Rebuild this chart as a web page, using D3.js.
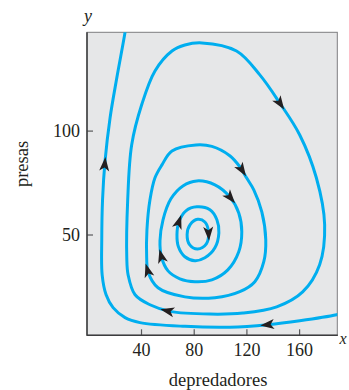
<!DOCTYPE html>
<html>
<head>
<meta charset="utf-8">
<script src="https://cdn.jsdelivr.net/npm/d3@7"></script>
<style>
  html, body { margin: 0; padding: 0; background: #ffffff; }
  svg { display: block; }
  text { font-family: "Liberation Serif", "DejaVu Serif", serif; fill: #231f20; }
</style>
</head>
<body>
<svg id="chart" width="349" height="390"></svg>
<script>
// ---- data (predators x, prey y) ----
const xTicks = [40, 80, 120, 160];
const yTicks = [50, 100];

const orbit1 = [[83,57.3],[88.5,56],[91.2,51.3],[89.6,45.5],[83,43],[77,45],[75,50],[77.3,54.7]];
const orbit2 = [[82.4,63.3],[92.3,61.9],[97.6,57.1],[99.1,50.8],[96.1,43.6],[88.5,38.8],[80.9,37.4],
                [73.3,39.3],[68.4,44.1],[67.3,49.9],[68.8,56.1],[74.1,61.4]];
const orbit3 = [[82.4,75.8],[96.1,73.9],[107.4,68.1],[114.2,60.4],[116.5,51.3],[114.2,41.7],[105.9,33.0],
                [93.8,28.2],[80.9,27.3],[69.5,28.7],[60.5,32.5],[55.5,39.3],[54.4,47.0],[56.7,57.1],
                [62.7,67.2],[71.8,73.4]];
const orbit4 = [[81.7,93.1],[93.8,92.4],[107.4,87.9],[115,82.6],[120.1,77.3],[125.6,71.5],[131.7,60.9],
                [134.7,47.5],[133.2,36.9],[126.4,27.3],[115,22.5],[96.1,19.6],[73.3,20.0],[52.9,24.4],
                [45.3,32.1],[44.3,38.8],[44.5,52.3],[46.8,66.7],[50.6,77.3],[55.9,83.5],[63.5,90.2]];
const orbit5 = [[86.2,142.2],[112.5,138.3],[130.2,126.8],[145.3,113.3],[160.5,97.9],[173.1,77.3],
                [179.4,54.7],[175.6,35.5],[162.7,22.4],[143,15.2],[117.3,12.2],[92.3,11.7],[62,13.0],
                [46.8,16.2],[35.5,21.0],[30.2,30.6],[29.2,38.8],[29.9,66.7],[32.9,93.1],[40.5,112.4],
                [50.6,128.7],[63.5,138.3],[73.3,141.2]];
const outerPath = [[192,12.0],[188.5,11.4],[160.5,8.5],[136.2,6.6],[107.4,5.4],[73.3,5.8],[39.2,7.6],
                   [27.9,10.0],[18.8,14.8],[13.5,21.0],[10.5,30.6],[10.2,47.5],[10.8,66.7],[12.7,85.4],
                   [16.5,106.1],[21.6,125.3],[27.9,147.4],[28.4,150]];
// arrowheads: which trajectory, and where on it (data units)
const arrowCurves = ["orbit5","orbit5","orbit4","orbit4","orbit3","orbit3","orbit2","orbit1","outer","outer"];
const arrowX = [145.3, 60.5, 116.3, 44.3, 107.4, 56.9, 69.0, 90.5, 12.0, 136.4];
const arrowY = [113.3, 12.4, 81.3, 32.2, 68.1, 39.4, 55.6, 50.8, 83.5, 6.6];

// ---- drawing ----
const svg = d3.select("#chart");
const pLeft = 87, pRight = 337.3, pTop = 32.3, pBottom = 335.3;
const x = d3.scaleLinear().domain([-1, 189]).range([pLeft, pRight]);
const y = d3.scaleLinear().domain([1.5, 147.3]).range([pBottom, pTop]);

svg.append("defs").append("clipPath").attr("id", "plotclip")
  .append("rect").attr("x", pLeft).attr("y", pTop).attr("width", pRight - pLeft).attr("height", pBottom - pTop);

svg.append("rect")
  .attr("x", pLeft).attr("y", pTop).attr("width", pRight - pLeft).attr("height", pBottom - pTop)
  .attr("fill", "#e6e7e8").attr("stroke", "#7d7e80").attr("stroke-width", 1);

const closedLine = d3.line().x(d => x(d[0])).y(d => y(d[1])).curve(d3.curveCatmullRomClosed.alpha(0.5));
const openLine = d3.line().x(d => x(d[0])).y(d => y(d[1])).curve(d3.curveCatmullRom.alpha(0.5));

const g = svg.append("g").attr("clip-path", "url(#plotclip)");
const curves = {
  orbit1: g.append("path").datum(orbit1).attr("d", closedLine),
  orbit2: g.append("path").datum(orbit2).attr("d", closedLine),
  orbit3: g.append("path").datum(orbit3).attr("d", closedLine),
  orbit4: g.append("path").datum(orbit4).attr("d", closedLine),
  orbit5: g.append("path").datum(orbit5).attr("d", closedLine),
  outer: g.append("path").datum(outerPath).attr("d", openLine)
};
Object.values(curves).forEach(p => p.attr("fill", "none").attr("stroke", "#00aeef")
  .attr("stroke-width", 3).attr("stroke-linejoin", "round"));

// axes
const xAxis = svg.append("g").attr("transform", `translate(0,${pBottom})`)
  .call(d3.axisBottom(x).tickValues(xTicks).tickSize(-6).tickPadding(8));
const yAxis = svg.append("g").attr("transform", `translate(${pLeft},0)`)
  .call(d3.axisLeft(y).tickValues(yTicks).tickSize(-6).tickPadding(7));
[xAxis, yAxis].forEach(a => {
  a.select(".domain").remove();
  a.selectAll(".tick line").attr("stroke", "#58595b").attr("stroke-width", 1.2);
  a.selectAll(".tick text").attr("font-family", "Liberation Serif, serif")
    .attr("font-size", 18).attr("fill", "#231f20");
});
svg.append("line").attr("x1", pLeft).attr("x2", pLeft).attr("y1", pTop).attr("y2", pBottom + 0.5)
  .attr("stroke", "#3c3c3e").attr("stroke-width", 1.5);
svg.append("line").attr("x1", pLeft).attr("x2", pRight + 0.5).attr("y1", pBottom).attr("y2", pBottom)
  .attr("stroke", "#3c3c3e").attr("stroke-width", 1.5);

// arrowheads, oriented along the trajectory
const ag = svg.append("g");
arrowCurves.forEach((name, i) => {
  const node = curves[name].node();
  const total = node.getTotalLength();
  const tx = x(arrowX[i]), ty = y(arrowY[i]);
  let best = 0, bestD = Infinity;
  for (let l = 0; l <= total; l += 0.5) {
    const p = node.getPointAtLength(l);
    const d = (p.x - tx) ** 2 + (p.y - ty) ** 2;
    if (d < bestD) { bestD = d; best = l; }
  }
  const p0 = node.getPointAtLength(Math.max(0, best - 3));
  const p1 = node.getPointAtLength(Math.min(total, best + 3));
  const pc = node.getPointAtLength(best);
  const ang = Math.atan2(p1.y - p0.y, p1.x - p0.x) * 180 / Math.PI;
  ag.append("path")
    .attr("d", "M8,0 L-6,-5 L-2.5,0 L-6,5 Z")
    .attr("transform", `translate(${pc.x},${pc.y}) rotate(${ang})`)
    .attr("fill", "#231f20");
});

// labels
svg.append("text").attr("x", 88).attr("y", 22).attr("text-anchor", "middle")
  .attr("font-style", "italic").attr("font-size", 18).text("y");
svg.append("text").attr("x", 339.5).attr("y", 344)
  .attr("font-style", "italic").attr("font-size", 16).text("x");
svg.append("text").attr("x", (pLeft + pRight) / 2 + 6).attr("y", 386).attr("text-anchor", "middle")
  .attr("font-size", 18.5).text("depredadores");
svg.append("text").attr("transform", `translate(28,164) rotate(-90)`).attr("text-anchor", "middle")
  .attr("font-size", 18.5).text("presas");
</script>
</body>
</html>
